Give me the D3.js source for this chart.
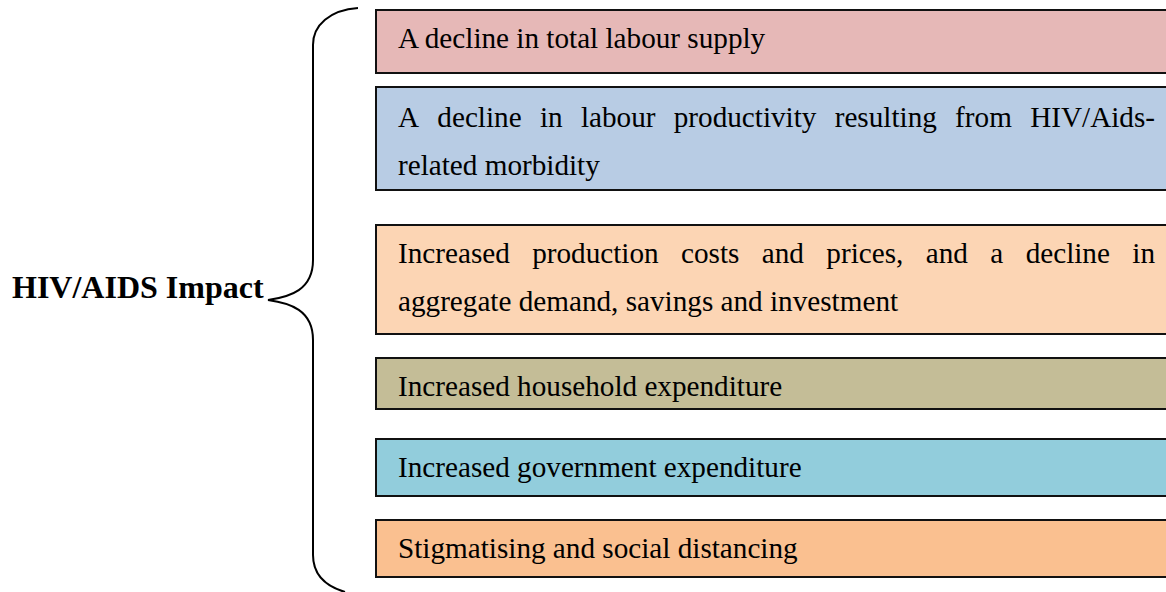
<!DOCTYPE html>
<html>
<head>
<meta charset="utf-8">
<script src="https://cdnjs.cloudflare.com/ajax/libs/d3/7.8.5/d3.min.js"></script>
<style>
  body { margin: 0; background: #fff; }
  text { font-family: "Liberation Serif", "Times New Roman", serif; fill: #000; }
</style>
</head>
<body>
<div class="container"></div>
<script>
var title = "HIV/AIDS Impact";

// text lines for each box (true = justified line)
var boxLines = [
    [["A decline in total labour supply", false]],
    [["A decline in labour productivity resulting from HIV/Aids-", true], ["related morbidity", false]],
    [["Increased production costs and prices, and a decline in", true], ["aggregate demand, savings and investment", false]],
    [["Increased household expenditure", false]],
    [["Increased government expenditure", false]],
    [["Stigmatising and social distancing", false]]
];
var boxColors = ["#e6b8b7", "#b8cce4", "#fcd5b4", "#c4bd97", "#92cddc", "#fac090"];

// layout
var width = 1166, height = 592;
var boxX = 376, boxRight = 1168, textX = 398, justifyRight = 1155;
var boxTop = [10, 87, 225, 358, 439, 520];
var boxBottom = [73, 190, 334, 409, 496, 577];
var lineY = [[48], [127, 175], [263, 311], [396], [477], [558]];

var svg = d3.select(".container")
    .append("svg")
    .attr("width", width)
    .attr("height", height);

var boxes = svg.selectAll("g.box")
    .data(boxLines)
    .enter()
    .append("g")
    .attr("class", "box");

boxes.append("rect")
    .attr("x", boxX)
    .attr("y", function (d, i) { return boxTop[i]; })
    .attr("width", boxRight - boxX)
    .attr("height", function (d, i) { return boxBottom[i] - boxTop[i]; })
    .style("fill", function (d, i) { return boxColors[i]; })
    .attr("stroke", "#111")
    .attr("stroke-width", 2);

boxes.each(function (lines, i) {
    var g = d3.select(this);
    lines.forEach(function (line, j) {
        var t = g.append("text")
            .attr("x", textX)
            .attr("y", lineY[i][j])
            .style("font-size", "29.2px");
        if (!line[1]) {
            t.text(line[0]);
            return;
        }
        // justify: lay out word by word
        var words = line[0].split(" ");
        var spans = words.map(function (w) {
            return t.append("tspan").text(w);
        });
        var widths = spans.map(function (s) { return s.node().getComputedTextLength(); });
        var total = d3.sum(widths);
        var gap = (justifyRight - textX - total) / (words.length - 1);
        var x = textX;
        spans.forEach(function (s, k) {
            s.attr("x", x);
            x += widths[k] + gap;
        });
    });
});

// brace
var bx = 313, tipX = 268, midY = 300;
var brace = d3.path();
brace.moveTo(358, 8);
brace.bezierCurveTo(330, 10, bx, 25, bx, 45);
brace.lineTo(bx, midY - 40);
brace.bezierCurveTo(bx, midY - 10, 290, midY - 3, tipX, midY);
brace.bezierCurveTo(290, midY + 3, bx, midY + 10, bx, midY + 40);
brace.lineTo(bx, 555);
brace.bezierCurveTo(bx, 575, 325, 586, 345, 592);

svg.append("path")
    .attr("d", brace.toString())
    .attr("fill", "none")
    .attr("stroke", "#000")
    .attr("stroke-width", 2);

svg.append("text")
    .attr("x", 12)
    .attr("y", 298)
    .style("font-size", "32px")
    .style("font-weight", "bold")
    .text(title);
</script>
</body>
</html>
